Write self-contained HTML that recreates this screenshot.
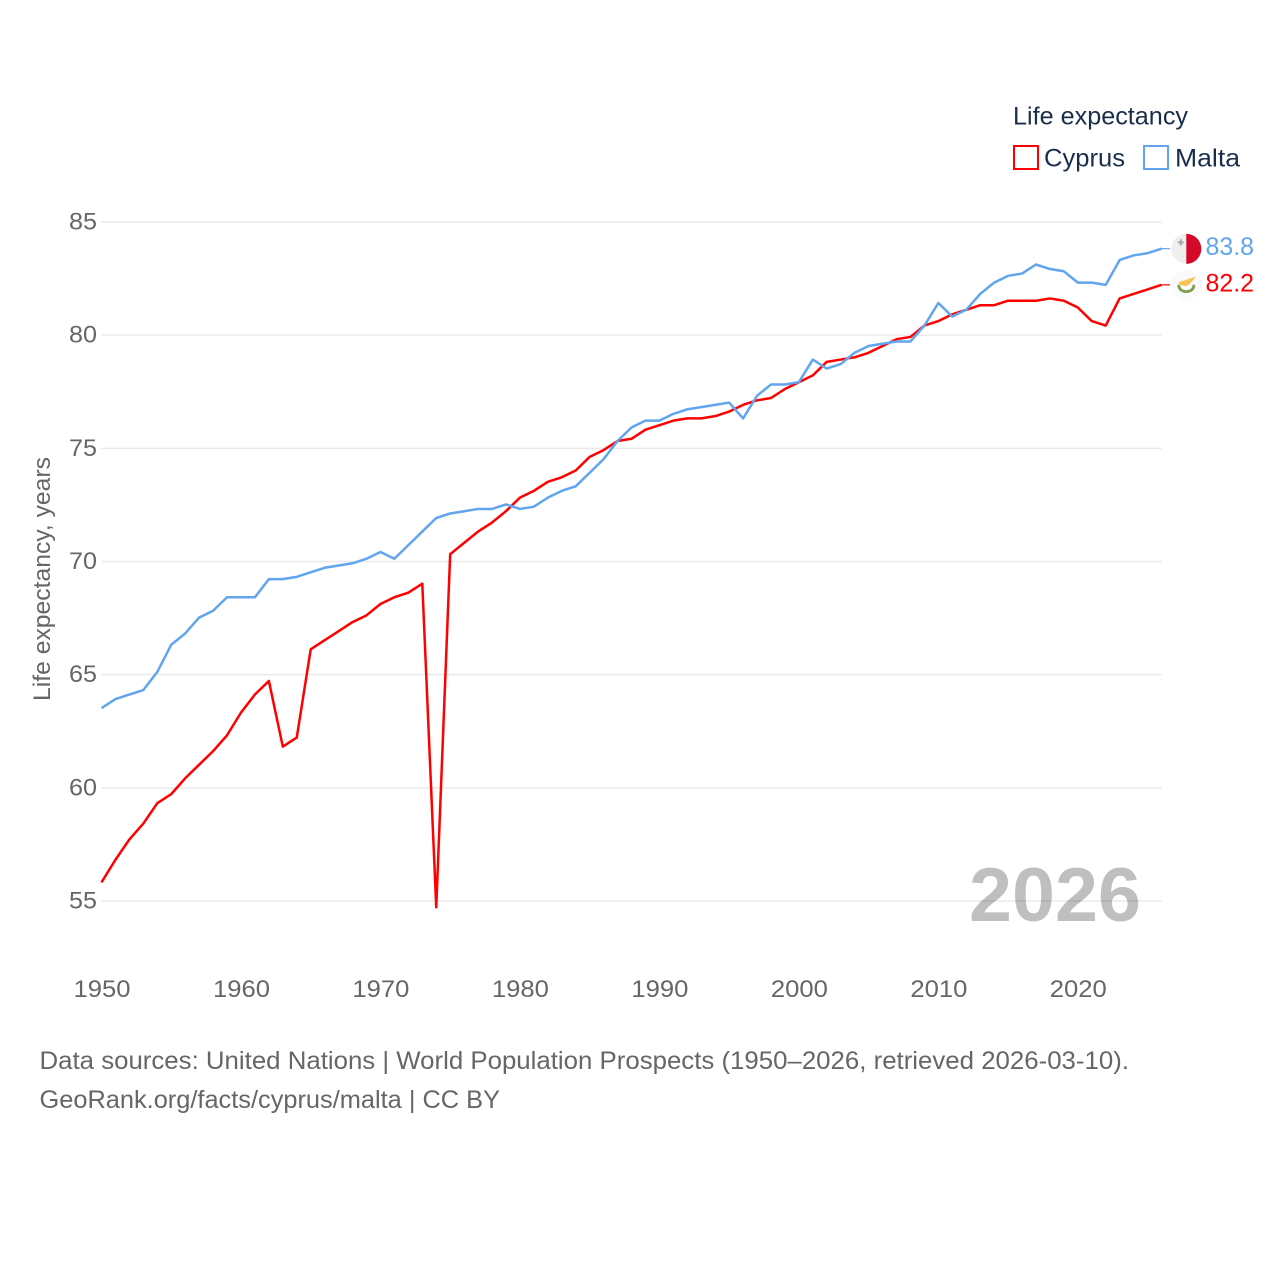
<!DOCTYPE html>
<html lang="en">
<head>
<meta charset="utf-8">
<title>Life expectancy: Cyprus and Malta</title>
<style>
html,body{margin:0;padding:0;background:#fff}
svg{display:block;font-family:"Liberation Sans",sans-serif}
</style>
</head>
<body>
<svg id="chart" xmlns="http://www.w3.org/2000/svg" width="1280" height="1280" viewBox="0 0 1280 1280">
  <rect x="0" y="0" width="1280" height="1280" fill="#fff"/>
  <g id="grid"></g>
  <g id="yticks"></g>
  <g id="xticks"></g>
  <text transform="translate(50,701) rotate(-90)" font-size="24.5" fill="#666" textLength="244" lengthAdjust="spacingAndGlyphs">Life expectancy, years</text>

  <g>
    <text x="1013" y="124.5" font-size="25" fill="#1a2e4c" textLength="175" lengthAdjust="spacingAndGlyphs">Life expectancy</text>
    <g>
      <rect x="1014" y="146" width="24" height="23" fill="none" stroke="#ff0000" stroke-width="2"/>
      <text x="1044" y="166.5" font-size="25" fill="#1a2e4c" textLength="81" lengthAdjust="spacingAndGlyphs">Cyprus</text>
    </g>
    <g>
      <rect x="1144" y="146" width="24" height="23" fill="none" stroke="#60a5ee" stroke-width="2"/>
      <text x="1175" y="166.5" font-size="25" fill="#1a2e4c" textLength="65" lengthAdjust="spacingAndGlyphs">Malta</text>
    </g>
  </g>

  <text x="969" y="921" font-size="76" font-weight="700" fill="#000" fill-opacity="0.25" textLength="172" lengthAdjust="spacingAndGlyphs">2026</text>
  <g id="series"></g>
  <g id="endlabels"></g>

  <text x="39.5" y="1069" font-size="25" fill="#666" textLength="1089.5" lengthAdjust="spacingAndGlyphs">Data sources: United Nations | World Population Prospects (1950–2026, retrieved 2026-03-10).</text>
  <text x="39.5" y="1108" font-size="25" fill="#666" textLength="460.5" lengthAdjust="spacingAndGlyphs">GeoRank.org/facts/cyprus/malta | CC BY</text>
</svg>
<script>
const years = [1950,1951,1952,1953,1954,1955,1956,1957,1958,1959,
  1960,1961,1962,1963,1964,1965,1966,1967,1968,1969,
  1970,1971,1972,1973,1974,1975,1976,1977,1978,1979,
  1980,1981,1982,1983,1984,1985,1986,1987,1988,1989,
  1990,1991,1992,1993,1994,1995,1996,1997,1998,1999,
  2000,2001,2002,2003,2004,2005,2006,2007,2008,2009,
  2010,2011,2012,2013,2014,2015,2016,2017,2018,2019,
  2020,2021,2022,2023,2024,2025,2026];
const cyprus = [55.8,56.8,57.7,58.4,59.3,59.7,60.4,61.0,61.6,62.3,
  63.3,64.1,64.7,61.8,62.2,66.1,66.5,66.9,67.3,67.6,
  68.1,68.4,68.6,69.0,54.7,70.3,70.8,71.3,71.7,72.2,
  72.8,73.1,73.5,73.7,74.0,74.6,74.9,75.3,75.4,75.8,
  76.0,76.2,76.3,76.3,76.4,76.6,76.9,77.1,77.2,77.6,
  77.9,78.2,78.8,78.9,79.0,79.2,79.5,79.8,79.9,80.4,
  80.6,80.9,81.1,81.3,81.3,81.5,81.5,81.5,81.6,81.5,
  81.2,80.6,80.4,81.6,81.8,82.0,82.2];
const malta = [63.5,63.9,64.1,64.3,65.1,66.3,66.8,67.5,67.8,68.4,
  68.4,68.4,69.2,69.2,69.3,69.5,69.7,69.8,69.9,70.1,
  70.4,70.1,70.7,71.3,71.9,72.1,72.2,72.3,72.3,72.5,
  72.3,72.4,72.8,73.1,73.3,73.9,74.5,75.3,75.9,76.2,
  76.2,76.5,76.7,76.8,76.9,77.0,76.3,77.3,77.8,77.8,
  77.9,78.9,78.5,78.7,79.2,79.5,79.6,79.7,79.7,80.4,
  81.4,80.8,81.1,81.8,82.3,82.6,82.7,83.1,82.9,82.8,
  82.3,82.3,82.2,83.3,83.5,83.6,83.8];
const yTickLabels = [55,60,65,70,75,80,85];
const xTickLabels = [1950,1960,1970,1980,1990,2000,2010,2020];

const NS = 'http://www.w3.org/2000/svg';
const xOf = function (yr) { return 101.5 + (yr - 1950) * (1060 / 76); };
const yOf = function (v) { return 222 + (85 - v) * (679 / 30); };
const lineY = function (v) { return yOf(v) - 0.5; };

function mk(tag, parent, attrs) {
  const el = document.createElementNS(NS, tag);
  Object.keys(attrs).forEach(function (k) { el.setAttribute(k, attrs[k]); });
  parent.appendChild(el);
  return el;
}

const gridG = document.getElementById('grid');
const yG = document.getElementById('yticks');
const xG = document.getElementById('xticks');
const seriesG = document.getElementById('series');
const endG = document.getElementById('endlabels');

yTickLabels.forEach(function (v) {
  const line = mk('line', gridG, {x1: 101.5, x2: 1161.5, y1: yOf(v), y2: yOf(v), stroke: '#eaeaea', 'stroke-width': 1.5});
  
  
  const t = mk('text', yG, {x: 97, y: yOf(v) + 7.5, 'text-anchor': 'end', 'font-size': 24.5, fill: '#666', textLength: 28, lengthAdjust: 'spacingAndGlyphs'});
  t.textContent = String(v);
  
  
});

xTickLabels.forEach(function (yr) {
  const t = mk('text', xG, {x: xOf(yr) + 0.5, y: 997, 'text-anchor': 'middle', 'font-size': 24.5, fill: '#666', textLength: 57, lengthAdjust: 'spacingAndGlyphs'});
  t.textContent = String(yr);
  
  
});

function pathFor(values) {
  return values.map(function (v, i) {
    return (i ? 'L' : 'M') + xOf(years[i]).toFixed(2) + ' ' + lineY(v).toFixed(2);
  }).join(' ');
}

const cyprusLine = mk('path', seriesG, {d: pathFor(cyprus), fill: 'none', stroke: '#ff0000', 'stroke-width': 2.5, 'stroke-linejoin': 'round'});


const maltaLine = mk('path', seriesG, {d: pathFor(malta), fill: 'none', stroke: '#60a5ee', 'stroke-width': 2.5, 'stroke-linejoin': 'round'});



/* end-of-line connectors and value labels */
const lastC = cyprus[cyprus.length - 1];
const lastM = malta[malta.length - 1];
const yC = lineY(lastC);
const yM = lineY(lastM);

const stubC = mk('line', endG, {x1: 1161.5, x2: 1170, y1: yC, y2: yC, stroke: '#ff0000', 'stroke-width': 1.2});


const stubM = mk('line', endG, {x1: 1161.5, x2: 1170, y1: yM, y2: yM, stroke: '#60a5ee', 'stroke-width': 1.2});



const valC = mk('text', endG, {x: 1205.5, y: yC + 6.5, 'font-size': 25, fill: '#ff0000', textLength: 48.5, lengthAdjust: 'spacingAndGlyphs'});
valC.textContent = lastC.toFixed(1);


const valM = mk('text', endG, {x: 1205.5, y: yM + 6.5, 'font-size': 25, fill: '#60a5ee', textLength: 48.5, lengthAdjust: 'spacingAndGlyphs'});
valM.textContent = lastM.toFixed(1);



/* Malta flag */
const fm = mk('g', endG, {transform: 'translate(1186.3,' + (yM + 0.2) + ')'});


mk('circle', fm, {cx: 0, cy: 0, r: 15, fill: '#efefef'});
mk('path', fm, {d: 'M0 -15 A15 15 0 0 1 0 15 Z', fill: '#d40828'});
mk('path', fm, {d: 'M-6.5 -9.5 h2 v2 h2 v2 h-2 v2 h-2 v-2 h-2 v-2 h2 Z', fill: '#a8a8a8'});

/* Cyprus flag */
const fc = mk('g', endG, {transform: 'translate(1186.3,' + (yC + 0.2) + ')'});


mk('circle', fc, {cx: 0, cy: 0, r: 15, fill: '#fafafa'});
mk('path', fc, {d: 'M-8 -2 C-6 -4.5 -3 -4 -1 -5 C2 -6 5 -7 9 -8.5 C8 -5 5 -3.5 3 -1 C1 1 -1 1 -3 0.5 C-5 0 -6.5 0 -8 -2 Z', fill: '#f5c452'});
mk('path', fc, {d: 'M-7.5 1 C-7 4.5 -4.5 6 -1 6.5 M7.5 1 C7 4.5 4.5 6 1 6.5', fill: 'none', stroke: '#7f9f4b', 'stroke-width': 2.8, 'stroke-linecap': 'round'});
</script>
</body>
</html>
